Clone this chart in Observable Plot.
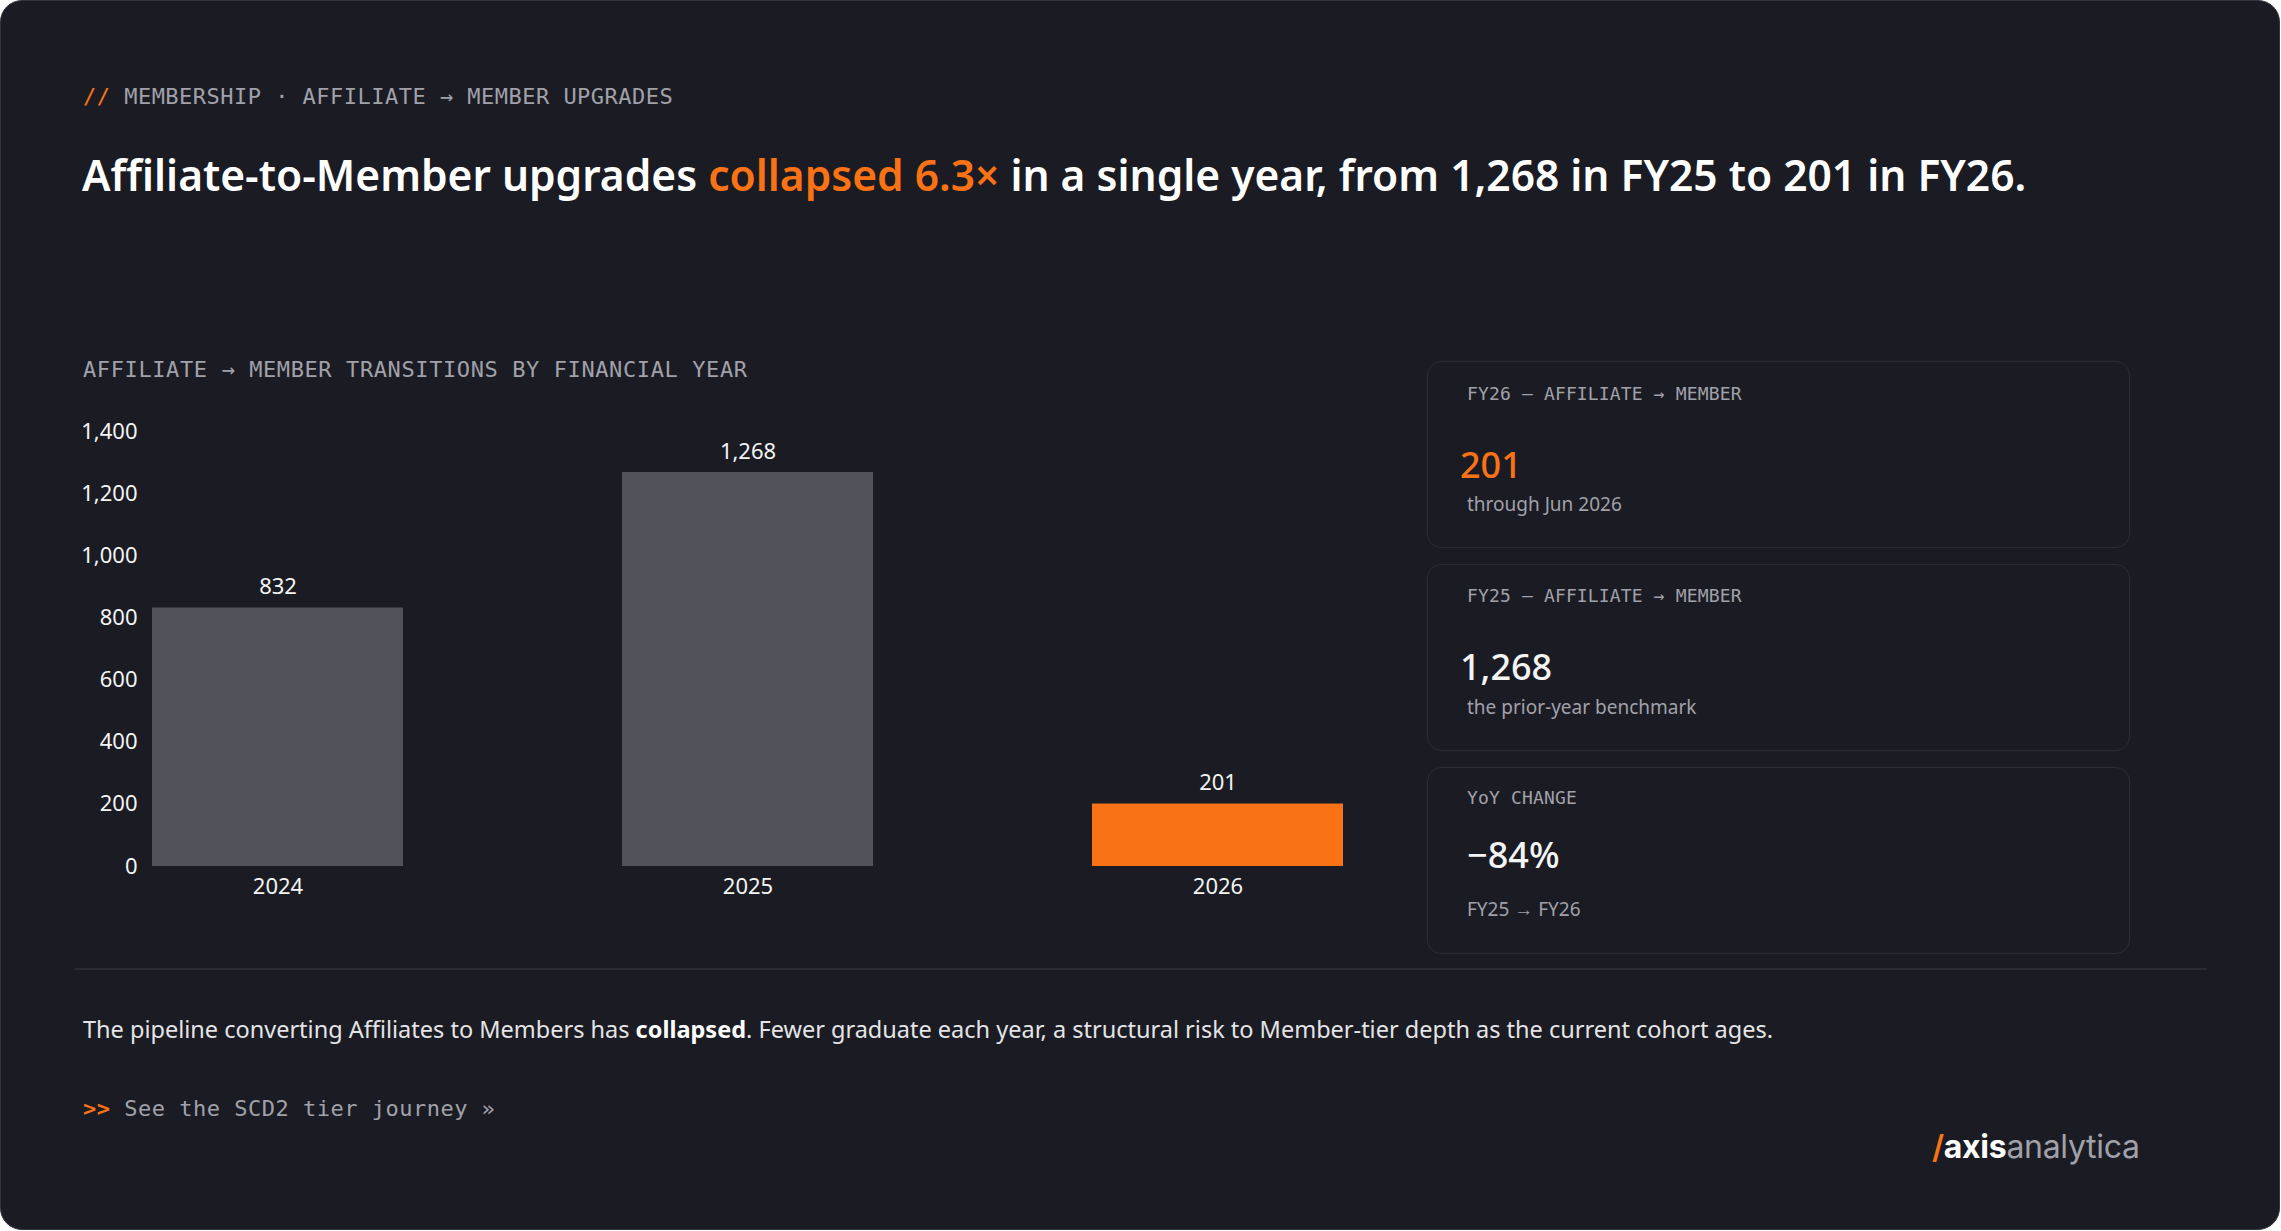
<!DOCTYPE html>
<html>
<head>
<meta charset="utf-8">
<script src="https://cdn.jsdelivr.net/npm/d3@7"></script>
<script src="https://cdn.jsdelivr.net/npm/@observablehq/plot@0.6"></script>
<style>
  html, body { margin: 0; padding: 0; background: #ffffff; }
  body { width: 2281px; height: 1231px; position: relative; overflow: hidden; }
  .panel { position: absolute; left: 0; top: 0; width: 2278px; height: 1228px; background: #1b1c23;
           border: 1px solid #34353c; border-radius: 22px; }
  .abs { position: absolute; white-space: nowrap; line-height: 1.2; }
  .mono { font-family: "DejaVu Sans Mono", monospace; }
  .sans { font-family: "Noto Sans", sans-serif; }
  .orange { color: #f97316; }
  .card { position: absolute; left: 1427px; width: 701px; height: 185px; border: 1px solid #2b2c34;
          border-radius: 14px; background: #1b1c23; }
  .card .lab { position: absolute; left: 39px; font-family: "DejaVu Sans Mono", monospace; font-size: 18px;
               color: #a1a1aa; line-height: 1.2; white-space: nowrap; letter-spacing: 0.15px; }
  .card .num { position: absolute; font-family: "Noto Sans", sans-serif; font-size: 36px; font-weight: 500;
               color: #f4f4f5; line-height: 1.2; white-space: nowrap; }
  .card .sub { position: absolute; left: 39px; font-family: "Noto Sans", sans-serif; font-size: 19px;
               color: #a1a1aa; line-height: 1.2; white-space: nowrap; }
</style>
</head>
<body>
<div class="panel"></div>

<div class="abs mono" style="left:83px; top:83.5px; font-size:22px; color:#a1a1aa; letter-spacing:0.48px;"><span class="orange">//</span> MEMBERSHIP · AFFILIATE → MEMBER UPGRADES</div>

<div class="abs sans" style="left:82px; top:149px; font-size:42.5px; font-weight:600; color:#ffffff;">Affiliate-to-Member upgrades <span class="orange">collapsed 6.3×</span> in a single year, from 1,268 in FY25 to 201 in FY26.</div>

<div class="abs mono" style="left:83px; top:356.5px; font-size:22px; color:#a1a1aa; letter-spacing:0.6px;">AFFILIATE → MEMBER TRANSITIONS BY FINANCIAL YEAR</div>

<div id="chart" style="position:absolute; left:60px; top:400px;"></div>

<div class="card" style="top:361px;">
  <div class="lab" style="top:21px;">FY26 — AFFILIATE → MEMBER</div>
  <div class="num" style="left:32px; top:81px; color:#f97316;">201</div>
  <div class="sub" style="top:131px;">through Jun 2026</div>
</div>
<div class="card" style="top:564px;">
  <div class="lab" style="top:20px;">FY25 — AFFILIATE → MEMBER</div>
  <div class="num" style="left:32px; top:80px;">1,268</div>
  <div class="sub" style="top:131px;">the prior-year benchmark</div>
</div>
<div class="card" style="top:767px;">
  <div class="lab" style="top:19px;">YoY CHANGE</div>
  <div class="num" style="left:39px; top:65px;">−84%</div>
  <div class="sub" style="top:130px;">FY25 → FY26</div>
</div>

<div style="position:absolute; left:75px; top:968px; width:2132px; height:2px; background:#2a2b31;"></div>

<div class="abs sans" style="left:83px; top:1014.5px; font-size:23.5px; color:#e4e4e7;">The pipeline converting Affiliates to Members has <b style="color:#ffffff;">collapsed</b>. Fewer graduate each year, a structural risk to Member-tier depth as the current cohort ages.</div>

<div class="abs mono" style="left:83px; top:1095.5px; font-size:22px; color:#a1a1aa; letter-spacing:0.5px;"><b class="orange">&gt;&gt;</b> See the SCD2 tier journey »</div>

<div class="abs" style="left:1932px; top:1127.5px; font-family:Inter, sans-serif; font-size:32px; letter-spacing:-0.3px;"><span class="orange" style="font-weight:600;">/</span><span style="color:#ffffff; font-weight:700;">axis</span><span style="color:#a1a1aa; font-weight:400;">analytica</span></div>

<script>
const years = ["2024", "2025", "2026"];
const transitions = [832, 1268, 201];
const yTicks = [0, 200, 400, 600, 800, 1000, 1200, 1400];
const highlightYear = "2026";

const data = years.map((year, i) => ({year, value: transitions[i]}));
const fmt = d3.format(",");

const chart = Plot.plot({
  width: 1300,
  height: 520,
  marginLeft: 91,
  marginRight: 16,
  marginTop: 31,
  marginBottom: 54,
  style: {background: "transparent", color: "#e4e4e7", fontFamily: "Noto Sans, sans-serif", fontSize: "22px"},
  x: {domain: years, paddingInner: 0.467, paddingOuter: 0, label: null},
  y: {domain: [0, 1400], label: null},
  marks: [
    Plot.barY(data, {x: "year", y: "value", fill: d => d.year === highlightYear ? "#f97316" : "#52525b"}),
    Plot.text(data, {x: "year", y: "value", text: d => fmt(d.value), dy: -21, fill: "#f4f4f5", fontSize: 22}),
    Plot.axisY({ticks: yTicks, tickFormat: fmt, tickSize: 0, tickPadding: 14, fontSize: 22, color: "#f4f4f5"}),
    Plot.axisX({tickSize: 0, tickPadding: 12, fontSize: 22, color: "#f4f4f5"})
  ]
});
document.getElementById("chart").appendChild(chart);
</script>
</body>
</html>
